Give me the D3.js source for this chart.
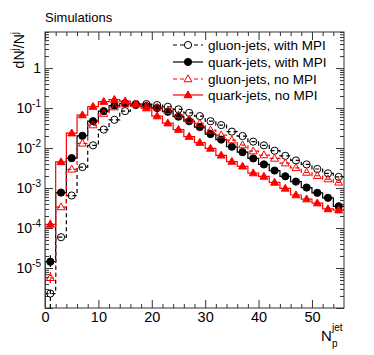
<!DOCTYPE html>
<html lang="en">
<head>
<meta charset="UTF-8">
<script src="https://d3js.org/d3.v7.min.js"></script>
<style>
  body { margin: 0; background: #fff; }
  text { font-family: "Liberation Sans", Arial, sans-serif; }
</style>
</head>
<body>
<svg id="chart" width="374" height="355"></svg>
<script>
// bin centres (bins of width 2 from 0 to 56)
var binCenters = [1, 3, 5, 7, 9, 11, 13, 15, 17, 19, 21, 23, 25, 27,
                  29, 31, 33, 35, 37, 39, 41, 43, 45, 47, 49, 51, 53, 55];

var gluonMPI = [2.3e-6, 5.9e-5, 6.5e-4, 3.35e-3, 0.0117, 0.029, 0.051, 0.084, 0.119, 0.126,
                0.119, 0.108, 0.093, 0.076, 0.063, 0.047, 0.0376, 0.0258, 0.020, 0.0145,
                0.0117, 0.0086, 0.0064, 0.0049, 0.0039, 0.0030, 0.00233, 0.0019];
var quarkMPI = [1.44e-5, 7.7e-4, 5.6e-3, 0.0203, 0.047, 0.084, 0.116, 0.131, 0.126, 0.112,
                0.100, 0.081, 0.061, 0.047, 0.0335, 0.0224, 0.0163, 0.0108, 0.0079, 0.0055,
                0.0039, 0.00274, 0.00197, 0.00145, 0.00103, 0.00076, 0.00057, 0.00035];
var gluonNoMPI = [5.7e-6, 3.35e-4, 2.94e-3, 0.0131, 0.0376, 0.073, 0.106, 0.126, 0.126, 0.115,
                  0.104, 0.086, 0.067, 0.052, 0.0415, 0.028, 0.0211, 0.0158, 0.0119, 0.0084,
                  0.0067, 0.0055, 0.0042, 0.0032, 0.00245, 0.00203, 0.00168, 0.00139];
var quarkNoMPI = [1.23e-4, 4.5e-3, 0.0236, 0.067, 0.109, 0.145, 0.163, 0.150, 0.126, 0.100,
                  0.063, 0.042, 0.029, 0.0194, 0.0137, 0.0098, 0.0066, 0.0046, 0.0035, 0.00237,
                  0.00195, 0.00138, 0.00098, 0.00067, 0.00053, 0.00042, 0.00030, 0.00028];

// error bars of the first bin [low, high]
var gluonMPIErr = [1e-7, 3.35e-6];
var quarkMPIErr = [1.06e-5, 2.1e-5];
var gluonNoMPIErr = [4.2e-6, 7.9e-6];
var quarkNoMPIErr = [9.6e-5, 1.6e-4];

var xMajor = [0, 10, 20, 30, 40, 50];
var xMinor = [2, 4, 6, 8, 12, 14, 16, 18, 22, 24, 26, 28, 32, 34, 36, 38, 42, 44, 46, 48, 52, 54];
var yDecades = [1e-6, 1e-5, 1e-4, 1e-3, 1e-2, 1e-1, 1];
var yLabels = [["10", "-5", 1e-5], ["10", "-4", 1e-4], ["10", "-3", 1e-3],
               ["10", "-2", 1e-2], ["10", "-1", 1e-1], ["1", "", 1]];

var series = [
  {name: "gluon-jets, with MPI", values: gluonMPI, err: gluonMPIErr, color: "#000", dash: "4,3", marker: "circle", filled: false},
  {name: "quark-jets, with MPI", values: quarkMPI, err: quarkMPIErr, color: "#000", dash: null, marker: "circle", filled: true},
  {name: "gluon-jets, no MPI", values: gluonNoMPI, err: gluonNoMPIErr, color: "#f00", dash: "4,3", marker: "triangle", filled: false},
  {name: "quark-jets, no MPI", values: quarkNoMPI, err: quarkNoMPIErr, color: "#f00", dash: null, marker: "triangle", filled: true}
];

var mLeft = 45, mRight = 344, mTop = 32, mBottom = 308;
var svg = d3.select("#chart");

var x = d3.scaleLinear().domain([0, 56]).range([mLeft, mRight]);
var y = d3.scaleLog().domain([1e-6, 8]).range([mBottom, mTop]).clamp(true);

svg.append("clipPath").attr("id", "clip")
  .append("rect").attr("x", mLeft).attr("y", mTop).attr("width", mRight - mLeft).attr("height", mBottom - mTop);

// minor log ticks
var yMinor = [];
yDecades.forEach(function(d){
  for (var k = 2; k <= 9; k++) {
    if (d * k <= 8) yMinor.push(d * k);
  }
});

var axisColor = "#333";
function styleAxis(g){
  g.select(".domain").remove();
  g.selectAll("line").attr("stroke", axisColor).attr("stroke-width", 1);
}

// x axes (bottom and top), ticks pointing inward
svg.append("g").attr("transform", "translate(0," + mBottom + ")")
  .call(d3.axisBottom(x).tickValues(xMajor).tickSize(-8).tickPadding(4).tickFormat(d3.format("d")))
  .call(styleAxis)
  .call(function(g){ g.selectAll("text").attr("font-size", 14.5).attr("fill", "#000")
      .attr("font-family", "Liberation Sans, Arial, sans-serif"); });
svg.append("g").attr("transform", "translate(0," + mBottom + ")")
  .call(d3.axisBottom(x).tickValues(xMinor).tickSize(-4).tickFormat(""))
  .call(styleAxis);
svg.append("g").attr("transform", "translate(0," + mTop + ")")
  .call(d3.axisTop(x).tickValues(xMajor).tickSize(-8).tickFormat(""))
  .call(styleAxis);
svg.append("g").attr("transform", "translate(0," + mTop + ")")
  .call(d3.axisTop(x).tickValues(xMinor).tickSize(-4).tickFormat(""))
  .call(styleAxis);

// y axes (left and right)
svg.append("g").attr("transform", "translate(" + mLeft + ",0)")
  .call(d3.axisLeft(y).tickValues(yDecades).tickSize(-8).tickFormat(""))
  .call(styleAxis);
svg.append("g").attr("transform", "translate(" + mLeft + ",0)")
  .call(d3.axisLeft(y).tickValues(yMinor).tickSize(-4).tickFormat(""))
  .call(styleAxis);
svg.append("g").attr("transform", "translate(" + mRight + ",0)")
  .call(d3.axisRight(y).tickValues(yDecades).tickSize(-8).tickFormat(""))
  .call(styleAxis);
svg.append("g").attr("transform", "translate(" + mRight + ",0)")
  .call(d3.axisRight(y).tickValues(yMinor).tickSize(-4).tickFormat(""))
  .call(styleAxis);

// y tick labels with superscripts
yLabels.forEach(function(l){
  var t = svg.append("text")
    .attr("x", mLeft - 4)
    .attr("y", y(l[2]) + 5)
    .attr("text-anchor", "end")
    .attr("font-size", 14);
  if (l[1] === "") {
    t.text(l[0]);
  } else {
    t.append("tspan").text(l[0]);
    t.append("tspan").attr("dy", -6).attr("font-size", 10).text(l[1]);
  }
});

// frame
svg.append("rect")
  .attr("x", mLeft).attr("y", mTop)
  .attr("width", mRight - mLeft).attr("height", mBottom - mTop)
  .attr("fill", "none").attr("stroke", axisColor).attr("stroke-width", 1);

// histogram outlines
var line = d3.line()
  .x(function(d){ return x(d[0]); })
  .y(function(d){ return y(d[1]); })
  .curve(d3.curveStepAfter);

function markerPath(type, s){
  if (type === "circle") {
    var r = s;
    return "M" + (-r) + ",0A" + r + "," + r + " 0 1,0 " + r + ",0A" + r + "," + r + " 0 1,0 " + (-r) + ",0Z";
  }
  var h = s * 1.9, w = s * 1.1;
  return "M0," + (-h * 0.6) + "L" + w + "," + (h * 0.4) + "L" + (-w) + "," + (h * 0.4) + "Z";
}

var g = svg.append("g").attr("clip-path", "url(#clip)");

series.forEach(function(s){
  var pts = [[0, 1e-6]];
  s.values.forEach(function(v, i){ pts.push([binCenters[i] - 1, v]); });
  pts.push([56, s.values[s.values.length - 1]]);

  g.append("path")
    .attr("d", line(pts))
    .attr("fill", "none")
    .attr("stroke", s.color)
    .attr("stroke-width", 1.2)
    .attr("stroke-dasharray", s.dash);

  // error bar of the first bin
  g.append("line")
    .attr("x1", x(binCenters[0])).attr("x2", x(binCenters[0]))
    .attr("y1", y(s.err[0])).attr("y2", y(s.err[1]))
    .attr("stroke", s.color).attr("stroke-width", 1.2)
    .attr("stroke-dasharray", s.dash);
});

series.forEach(function(s){
  g.selectAll(null)
    .data(s.values)
    .enter().append("path")
    .attr("transform", function(d, i){ return "translate(" + x(binCenters[i]) + "," + y(d) + ")"; })
    .attr("d", markerPath(s.marker, 3.6))
    .attr("fill", s.filled ? s.color : "none")
    .attr("stroke", s.color)
    .attr("stroke-width", 1);
});

// legend
var legY = [45, 62, 79, 95];
series.forEach(function(s, i){
  var lg = svg.append("g").attr("transform", "translate(0," + legY[i] + ")");
  lg.append("line").attr("x1", 173).attr("x2", 203).attr("y1", 0).attr("y2", 0)
    .attr("stroke", s.color).attr("stroke-width", 1.2).attr("stroke-dasharray", s.dash);
  lg.append("path").attr("transform", "translate(188,0)")
    .attr("d", markerPath(s.marker, 3.6))
    .attr("fill", s.filled ? s.color : "#fff")
    .attr("stroke", s.color).attr("stroke-width", 1);
  lg.append("text").attr("x", 208).attr("y", 5).attr("font-size", 13.5).text(s.name);
});

// titles
svg.append("text").attr("x", 45).attr("y", 22).attr("font-size", 13).text("Simulations");

var yt = svg.append("text")
  .attr("transform", "translate(24," + mTop + ") rotate(-90)")
  .attr("text-anchor", "end")
  .attr("font-size", 14);
yt.append("tspan").text("dN");
yt.append("tspan").attr("dy", -6).attr("font-size", 10).text("j");
yt.append("tspan").attr("dy", 6).text("/N");
yt.append("tspan").attr("dy", -6).attr("font-size", 10).text("j");

var xt = svg.append("text").attr("x", 321).attr("y", 341).attr("font-size", 15);
xt.append("tspan").text("N");
svg.append("text").attr("x", 332).attr("y", 331).attr("font-size", 10).text("jet");
svg.append("text").attr("x", 332).attr("y", 347).attr("font-size", 10).text("p");
</script>
</body>
</html>
